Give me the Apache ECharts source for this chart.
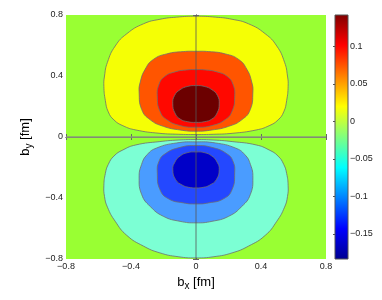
<!DOCTYPE html>
<html>
<head>
<meta charset="utf-8">
<script src="https://cdn.jsdelivr.net/npm/echarts@6.0.0/dist/echarts.min.js"></script>
<style>
html, body { margin: 0; padding: 0; background: #fff; }
#chart { width: 382px; height: 300px; }
</style>
</head>
<body>
<div id="chart"></div>
<script>
// axis ranges / ticks
var bRange = [-0.8, 0.8];
var cbRange = [-0.1833, 0.1418];
var cbTicks = [-0.15, -0.1, -0.05, 0, 0.05, 0.1];

// contour outlines, [bx, by] in fm
var posYellow = [
    [0, 0.792], [-0.12, 0.786], [-0.222, 0.772], [-0.324, 0.742], [-0.426, 0.677], [-0.497, 0.597], [-0.545, 0.49], [-0.563, 0.4], [-0.567, 0.332], [-0.558, 0.24], [-0.54, 0.165], [-0.505, 0.112], [-0.45, 0.074], [-0.37, 0.046], [-0.222, 0.024], [-0.11, 0.018], [0, 0.016],
    [0.11, 0.018], [0.222, 0.024], [0.37, 0.046], [0.45, 0.074], [0.505, 0.112], [0.54, 0.165], [0.558, 0.24], [0.567, 0.332], [0.563, 0.4], [0.545, 0.49], [0.497, 0.597], [0.426, 0.677], [0.324, 0.742], [0.222, 0.772], [0.12, 0.786]
];
var posOrange = [
    [0, 0.562], [-0.078, 0.56], [-0.18, 0.545], [-0.263, 0.508], [-0.314, 0.442], [-0.343, 0.36], [-0.35, 0.295], [-0.334, 0.18], [-0.283, 0.114], [-0.201, 0.07], [-0.098, 0.046], [0, 0.038],
    [0.098, 0.046], [0.201, 0.07], [0.283, 0.114], [0.334, 0.18], [0.35, 0.295], [0.343, 0.36], [0.314, 0.442], [0.263, 0.508], [0.18, 0.545], [0.078, 0.56]
];
var posRed = [
    [0, 0.442], [-0.057, 0.44], [-0.129, 0.427], [-0.191, 0.398], [-0.228, 0.344], [-0.238, 0.26], [-0.222, 0.169], [-0.18, 0.114], [-0.098, 0.075], [0, 0.064],
    [0.098, 0.075], [0.18, 0.114], [0.222, 0.169], [0.238, 0.26], [0.228, 0.344], [0.191, 0.398], [0.129, 0.427], [0.057, 0.44]
];
var posDarkRed = [
    [0, 0.337], [-0.05, 0.332], [-0.098, 0.31], [-0.132, 0.272], [-0.143, 0.217], [-0.13, 0.158], [-0.098, 0.118], [-0.05, 0.1], [0, 0.096],
    [0.05, 0.1], [0.098, 0.118], [0.13, 0.158], [0.143, 0.217], [0.132, 0.272], [0.098, 0.31], [0.05, 0.332]
];
var negAqua = [
    [0, -0.017], [-0.11, -0.02], [-0.222, -0.03], [-0.37, -0.052], [-0.45, -0.085], [-0.505, -0.125], [-0.54, -0.18], [-0.558, -0.24], [-0.567, -0.32], [-0.563, -0.39], [-0.545, -0.46], [-0.497, -0.553], [-0.426, -0.645], [-0.324, -0.715], [-0.222, -0.76], [-0.11, -0.785], [0, -0.793],
    [0.11, -0.785], [0.222, -0.76], [0.324, -0.715], [0.426, -0.645], [0.497, -0.553], [0.545, -0.46], [0.563, -0.39], [0.567, -0.32], [0.558, -0.24], [0.54, -0.18], [0.505, -0.125], [0.45, -0.085], [0.37, -0.052], [0.222, -0.03], [0.11, -0.02]
];
var negLightBlue = [
    [0, -0.032], [-0.119, -0.039], [-0.242, -0.072], [-0.3, -0.115], [-0.335, -0.18], [-0.35, -0.268], [-0.334, -0.378], [-0.283, -0.454], [-0.201, -0.52], [-0.098, -0.553], [0, -0.563],
    [0.098, -0.553], [0.201, -0.52], [0.283, -0.454], [0.334, -0.378], [0.35, -0.268], [0.335, -0.18], [0.3, -0.115], [0.242, -0.072], [0.119, -0.039]
];
var negBlue = [
    [0, -0.056], [-0.098, -0.068], [-0.19, -0.11], [-0.228, -0.16], [-0.238, -0.235], [-0.222, -0.345], [-0.17, -0.405], [-0.078, -0.432], [0, -0.439],
    [0.078, -0.432], [0.17, -0.405], [0.222, -0.345], [0.238, -0.235], [0.228, -0.16], [0.19, -0.11], [0.098, -0.068]
];
var negDarkBlue = [
    [0, -0.098], [-0.05, -0.102], [-0.098, -0.125], [-0.13, -0.165], [-0.143, -0.214], [-0.125, -0.28], [-0.085, -0.315], [-0.045, -0.33], [0, -0.334],
    [0.045, -0.33], [0.085, -0.315], [0.125, -0.28], [0.143, -0.214], [0.13, -0.165], [0.098, -0.125], [0.05, -0.102]
];

// outer ones first so inner ones sit on top
var contours = [posYellow, posOrange, posRed, posDarkRed, negAqua, negLightBlue, negBlue, negDarkBlue];
var fills = ['#f5ff05', '#ff5500', '#ff0800', '#6c0000', '#7cffd4', '#4a9cff', '#2448ff', '#0000c8'];
var bgGreen = '#99ff33';
var font = 'Liberation Sans, Arial, Helvetica, sans-serif';

// the two zero lines: [x0, y0, x1, y1]
var zeroLines = [
    [bRange[0], 0, bRange[1], 0],
    [0, bRange[0], 0, bRange[1]]
];
var zeroStyles = [
    { stroke: '#8a9d78', lineWidth: 1.6 },
    { stroke: '#555', lineWidth: 0.8 }
];

// jet colormap, top of the bar first
var jetStops = [
    { offset: 0, color: '#800000' },
    { offset: 0.125, color: '#ff0000' },
    { offset: 0.375, color: '#ffff00' },
    { offset: 0.625, color: '#00ffff' },
    { offset: 0.875, color: '#0000ff' },
    { offset: 1, color: '#000090' }
];

function minus(v) {
    return String(v).replace('-', '\u2212');
}

var nameRich = {
    b: { fontSize: 13, fontFamily: font, color: '#000' },
    s: { fontSize: 10, fontFamily: font, color: '#000', padding: [7, 0, 0, 0] }
};

// box axes round the main plot (MATLAB style, ticks inside)
function frameAxis(pos, labels) {
    return {
        gridIndex: 0, type: 'value', min: bRange[0], max: bRange[1], interval: 0.4, position: pos,
        axisLine: { lineStyle: { color: '#666', width: 1 } },
        axisTick: { inside: true, length: 3, lineStyle: { color: '#666' } },
        axisLabel: { show: labels, margin: 3, fontSize: 9, fontFamily: font, color: '#222', formatter: minus },
        splitLine: { show: false }
    };
}
function cbAxis(pos, labels) {
    return {
        gridIndex: 1, type: 'value', min: cbRange[0], max: cbRange[1], position: pos,
        axisLine: { show: false },
        axisTick: { inside: true, length: 2, customValues: cbTicks, lineStyle: { color: '#555' } },
        axisLabel: { show: labels, margin: 2, fontSize: 9, fontFamily: font, color: '#222', customValues: cbTicks, formatter: minus },
        splitLine: { show: false }
    };
}

var xBottom = frameAxis('bottom', true);
xBottom.name = '{b|b}{s|x}{b| [fm]}';
xBottom.nameLocation = 'middle';
xBottom.nameGap = 6;
xBottom.nameTextStyle = { rich: nameRich };

var yLeft = frameAxis('left', true);
yLeft.name = '{b|b}{s|y}{b| [fm]}';
yLeft.nameLocation = 'middle';
yLeft.nameRotate = 90;
yLeft.nameGap = 17;
yLeft.nameTextStyle = { rich: nameRich };

var myChart = echarts.init(document.getElementById('chart'));

var option = {
    backgroundColor: '#fff',
    animation: false,
    grid: [
        { left: 66, right: 56, top: 15, bottom: 41, show: true, backgroundColor: bgGreen, borderWidth: 0 },
        { left: 335, width: 13, top: 15, bottom: 41 }
    ],
    xAxis: [xBottom, frameAxis('top', false), { gridIndex: 1, type: 'value', min: 0, max: 1, show: false }],
    yAxis: [yLeft, frameAxis('right', false), cbAxis('right', true), cbAxis('left', false)],
    series: [
        {
            // filled contour regions
            type: 'custom',
            xAxisIndex: 0, yAxisIndex: 0,
            data: contours.map(function (c, i) { return [i, 0]; }),
            renderItem: function (params, api) {
                var i = params.dataIndex;
                var pts = contours[i].map(function (p) { return api.coord(p); });
                return {
                    type: 'polygon',
                    shape: { points: pts, smooth: 0.5 },
                    style: { fill: fills[i], stroke: '#6e6e6e', lineWidth: 0.8 }
                };
            }
        },
        {
            // zero lines
            type: 'custom',
            xAxisIndex: 0, yAxisIndex: 0,
            data: zeroLines,
            renderItem: function (params, api) {
                var a = api.coord([api.value(0), api.value(1)]);
                var b = api.coord([api.value(2), api.value(3)]);
                return {
                    type: 'line',
                    shape: { x1: a[0], y1: a[1], x2: b[0], y2: b[1] },
                    style: zeroStyles[params.dataIndex]
                };
            }
        },
        {
            // colorbar
            type: 'custom',
            xAxisIndex: 2, yAxisIndex: 2,
            data: [[0, cbRange[0], cbRange[1]]],
            renderItem: function (params, api) {
                var p0 = api.coord([0, api.value(2)]);
                var p1 = api.coord([1, api.value(1)]);
                return {
                    type: 'rect',
                    shape: { x: p0[0], y: p0[1], width: p1[0] - p0[0], height: p1[1] - p0[1] },
                    style: { fill: new echarts.graphic.LinearGradient(0, 0, 0, 1, jetStops), stroke: '#555', lineWidth: 1 }
                };
            }
        }
    ]
};

myChart.setOption(option);
</script>
</body>
</html>
